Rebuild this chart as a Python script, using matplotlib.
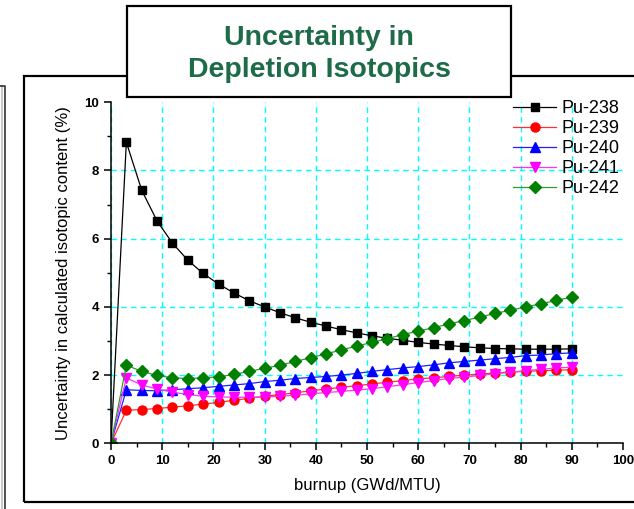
"""Incertidumbre en la composición isotópica del Pu calculada frente al
quemado, con el recuadro de título de la diapositiva original."""

import matplotlib
matplotlib.use("Agg")
import matplotlib.pyplot as plt
from matplotlib.patches import Rectangle
from matplotlib.lines import Line2D

plt.rcParams["font.family"] = ["Liberation Sans", "DejaVu Sans"]

QUEMADO = [0, 3, 6, 9, 12, 15, 18, 21, 24, 27, 30, 33, 36, 39, 42, 45,
           48, 51, 54, 57, 60, 63, 66, 69, 72, 75, 78, 81, 84, 87, 90]

PU238 = [0, 8.83, 7.42, 6.52, 5.87, 5.37, 4.98, 4.67, 4.41, 4.18, 4.00,
         3.83, 3.68, 3.55, 3.44, 3.33, 3.24, 3.15, 3.08, 3.02, 2.96, 2.91,
         2.87, 2.83, 2.80, 2.78, 2.77, 2.76, 2.76, 2.76, 2.77]
PU239 = [0, 0.97, 0.99, 1.02, 1.06, 1.10, 1.15, 1.20, 1.26, 1.32, 1.38,
         1.43, 1.48, 1.54, 1.59, 1.64, 1.69, 1.74, 1.79, 1.84, 1.89, 1.92,
         1.96, 2.00, 2.03, 2.06, 2.09, 2.11, 2.13, 2.14, 2.16]
PU240 = [0, 1.57, 1.55, 1.54, 1.57, 1.60, 1.63, 1.67, 1.71, 1.75, 1.81,
         1.85, 1.90, 1.93, 1.96, 2.00, 2.05, 2.11, 2.16, 2.21, 2.25, 2.30,
         2.36, 2.40, 2.44, 2.48, 2.52, 2.57, 2.59, 2.63, 2.65]
PU241 = [0, 1.92, 1.71, 1.59, 1.50, 1.43, 1.38, 1.36, 1.35, 1.35, 1.36,
         1.38, 1.41, 1.45, 1.49, 1.52, 1.56, 1.60, 1.66, 1.72, 1.78, 1.84,
         1.90, 1.94, 1.99, 2.04, 2.08, 2.13, 2.17, 2.21, 2.23]
PU242 = [0, 2.29, 2.11, 1.99, 1.92, 1.90, 1.92, 1.95, 2.02, 2.11, 2.20,
         2.29, 2.40, 2.51, 2.62, 2.74, 2.85, 2.96, 3.07, 3.19, 3.29, 3.39,
         3.50, 3.60, 3.70, 3.81, 3.90, 4.00, 4.09, 4.19, 4.29]

ETIQUETAS = ["Pu-238", "Pu-239", "Pu-240", "Pu-241", "Pu-242"]
TITULO = "Uncertainty in\nDepletion Isotopics"

W, H = 634, 509

# (marcador, color marcador, color línea, tamaño)
ESTILOS = [
    ("s", "black", "black", 5.5),
    ("o", "#ff0000", "#ff3030", 6.5),
    ("^", "#0000ff", "#2020ff", 7.5),
    ("v", "#ff00ff", "#ff30ff", 7.5),
    ("D", "#008000", "#2f9a2f", 6.0),
]


def px(x, y):
    """Pixeles de la imagen (origen arriba-izquierda) -> fracción de figura."""
    return x / W, 1 - y / H


def decorar_figura(fig):
    # panel vecino cortado a la izquierda
    fig.add_artist(Line2D([2 / W, 2 / W], [0, 1 - 86 / H], color="#c8c8c8",
                          lw=1.5, transform=fig.transFigure))
    fig.add_artist(Line2D([0, 5 / W, 5 / W], [1 - 86 / H, 1 - 86 / H, 0],
                          color="#333333", lw=1.2, transform=fig.transFigure))
    # marco del gráfico
    x0, y0 = px(24, 502)
    fig.add_artist(Rectangle((x0, y0), 1.05 - x0, (502 - 76) / H,
                             transform=fig.transFigure, fill=False,
                             ec="black", lw=1.6))
    # recuadro del título
    x0, y0 = px(127, 97)
    fig.add_artist(Rectangle((x0, y0), (511 - 127) / W, (97 - 6) / H,
                             transform=fig.transFigure, fc="white",
                             ec="black", lw=1.6, zorder=5))
    fig.text(*px(319, 54), TITULO, ha="center", va="center",
             fontsize=20.5, fontweight="bold", color="#1d6b47",
             linespacing=1.3, zorder=6)


def main():
    fig = plt.figure(figsize=(W / 100, H / 100), dpi=100)
    decorar_figura(fig)

    izq, abajo = px(111, 443.3)
    der, arriba = px(623, 102.3)
    ax = fig.add_axes([izq, abajo, der - izq, arriba - abajo])

    series = [PU238, PU239, PU240, PU241, PU242]
    for valores, etiqueta, (m, cm, cl, ms) in zip(series, ETIQUETAS, ESTILOS):
        ax.plot(QUEMADO, valores, color=cl, lw=0.9, marker=m, ms=ms,
                mfc=cm, mec=cm, label=etiqueta)

    ax.set_xlim(0, 100)
    ax.set_ylim(0, 10)
    ax.set_xticks(range(0, 101, 10))
    ax.set_xticks(range(5, 100, 10), minor=True)
    ax.set_yticks(range(0, 11, 2))
    ax.set_yticks(range(1, 10, 2), minor=True)

    for lado in ("top", "right"):
        ax.spines[lado].set_visible(False)
    for lado in ("left", "bottom"):
        ax.spines[lado].set_linewidth(1.1)

    ax.tick_params(which="major", direction="out", length=5, width=1.1,
                   labelsize=9.5)
    ax.tick_params(which="minor", direction="out", length=3, width=1.0)
    for lbl in ax.get_xticklabels() + ax.get_yticklabels():
        lbl.set_fontweight("bold")

    ax.grid(True, which="major", color="#00ffff", ls=(0, (4, 3)), lw=1.0)
    ax.set_axisbelow(True)
    # sin rejilla sobre los bordes 100 y 10
    ax.xaxis.get_major_ticks()[-1].gridline.set_visible(False)
    ax.yaxis.get_major_ticks()[-1].gridline.set_visible(False)

    ax.set_xlabel("burnup (GWd/MTU)", fontsize=12, labelpad=8)
    ax.set_ylabel("Uncertainty in calculated isotopic content (%)",
                  fontsize=12, labelpad=10)

    ax.legend(loc="upper left", bbox_to_anchor=px(513, 100),
              bbox_transform=fig.transFigure, frameon=False, fontsize=13,
              handlelength=2.4, handletextpad=0.3, labelspacing=0.17,
              borderpad=0, borderaxespad=0)

    fig.savefig("out.png", dpi=100)
    plt.close(fig)


if __name__ == "__main__":
    main()
